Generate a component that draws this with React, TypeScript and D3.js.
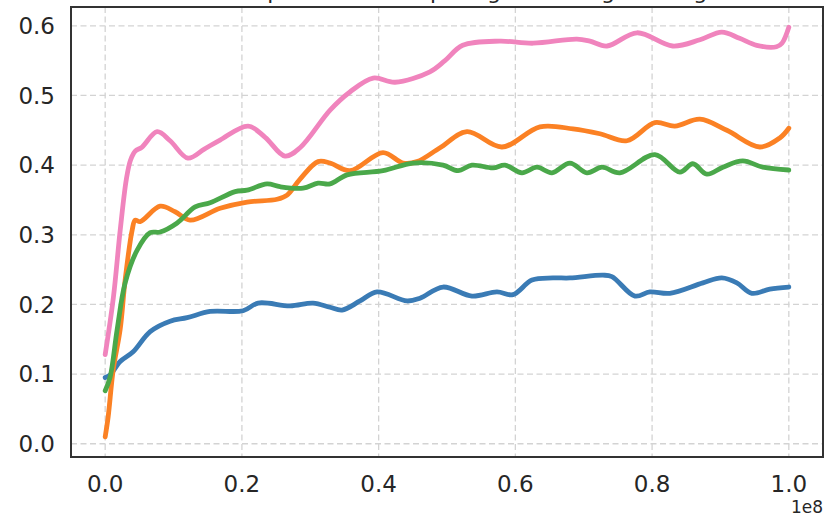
import React from "react";
import * as d3 from "d3";

const xTicks = [0, 0.2, 0.4, 0.6, 0.8, 1.0];
const yTicks = [0, 0.1, 0.2, 0.3, 0.4, 0.5, 0.6];
const titleText = "Mean episode reward per agent during training";
const offsetText = "1e8";

const blueX = [0, 0.0073, 0.0219, 0.0409, 0.0658, 0.095, 0.1199, 0.1535, 0.2018, 0.2237, 0.2705, 0.3041, 0.3289, 0.3465, 0.3728, 0.3977, 0.4415, 0.4605, 0.4942, 0.5365, 0.5731, 0.5965, 0.6243, 0.655, 0.6798, 0.7281, 0.7412, 0.7749, 0.7968, 0.826, 0.8743, 0.902, 0.924, 0.9459, 0.9722, 1.0];
const blueY = [0.095, 0.099, 0.118, 0.132, 0.161, 0.176, 0.181, 0.19, 0.191, 0.202, 0.198, 0.202, 0.196, 0.192, 0.205, 0.218, 0.205, 0.209, 0.225, 0.212, 0.218, 0.214, 0.235, 0.238, 0.238, 0.242, 0.24, 0.212, 0.218, 0.216, 0.231, 0.238, 0.231, 0.216, 0.222, 0.225];

const orangeX = [0, 0.0044, 0.0117, 0.0219, 0.0292, 0.0395, 0.0439, 0.0512, 0.0804, 0.1023, 0.1243, 0.1681, 0.2076, 0.2515, 0.2661, 0.2851, 0.3114, 0.3289, 0.3582, 0.4064, 0.4357, 0.4561, 0.4898, 0.5292, 0.5804, 0.636, 0.6842, 0.7237, 0.7632, 0.8041, 0.8333, 0.8699, 0.9094, 0.9576, 0.9868, 1.0];
const orangeY = [0.01, 0.039, 0.106, 0.164, 0.235, 0.307, 0.321, 0.319, 0.341, 0.333, 0.321, 0.338, 0.347, 0.351, 0.357, 0.38, 0.405, 0.403, 0.392, 0.418, 0.403, 0.405, 0.425, 0.448, 0.426, 0.455, 0.452, 0.445, 0.435, 0.461, 0.456, 0.466, 0.45, 0.426, 0.439, 0.453];

const greenX = [0, 0.0073, 0.0175, 0.0292, 0.0468, 0.0658, 0.0804, 0.1053, 0.1316, 0.1535, 0.1901, 0.2076, 0.2368, 0.2558, 0.2895, 0.3114, 0.3289, 0.3538, 0.4064, 0.4503, 0.4942, 0.5161, 0.5365, 0.5673, 0.5848, 0.6096, 0.6316, 0.6535, 0.6798, 0.7047, 0.7266, 0.7529, 0.8041, 0.8406, 0.8596, 0.8801, 0.9035, 0.9327, 0.962, 1.0];
const greenY = [0.076, 0.096, 0.164, 0.231, 0.278, 0.303, 0.304, 0.317, 0.34, 0.346, 0.362, 0.364, 0.373, 0.369, 0.367, 0.374, 0.373, 0.386, 0.392, 0.403, 0.4, 0.392, 0.4, 0.396, 0.4, 0.389, 0.397, 0.389, 0.403, 0.389, 0.397, 0.389, 0.415, 0.39, 0.402, 0.387, 0.397, 0.406, 0.397, 0.393];

const pinkX = [0, 0.012, 0.022, 0.031, 0.037, 0.044, 0.054, 0.076, 0.095, 0.121, 0.145, 0.168, 0.209, 0.234, 0.263, 0.285, 0.329, 0.358, 0.392, 0.424, 0.475, 0.497, 0.523, 0.577, 0.626, 0.69, 0.709, 0.734, 0.778, 0.83, 0.87, 0.902, 0.928, 0.953, 0.982, 0.99, 1.0];
const pinkY = [0.128, 0.21, 0.307, 0.38, 0.407, 0.42, 0.426, 0.448, 0.435, 0.41, 0.423, 0.436, 0.456, 0.44, 0.413, 0.425, 0.479, 0.505, 0.525, 0.519, 0.534, 0.55, 0.572, 0.578, 0.575, 0.581, 0.578, 0.571, 0.59, 0.571, 0.58, 0.591, 0.582, 0.572, 0.57, 0.575, 0.598];

const seriesColors = ["#3a7bb5", "#fb8124", "#4aa84a", "#f084bd"];

const W = 825;
const H = 519;
const L = 71, R = 823, T = 7, B = 457;

export default function App() {
  const x = d3.scaleLinear().domain([-0.05, 1.05]).range([L, R]);
  const y = d3.scaleLinear().domain([-0.019, 0.627]).range([B, T]);
  const series = [
    { xs: blueX, ys: blueY },
    { xs: orangeX, ys: orangeY },
    { xs: greenX, ys: greenY },
    { xs: pinkX, ys: pinkY },
  ];
  const line = d3
    .line<[number, number]>()
    .x((d) => x(d[0]))
    .y((d) => y(d[1]))
    .curve(d3.curveCatmullRom.alpha(0.5));
  const fmt = d3.format(".1f");
  const font = "'DejaVu Sans', sans-serif";
  return (
    <svg
      width={W}
      height={H}
      style={{ position: "absolute", left: 0, top: 0, background: "#fff" }}
      fontFamily={font}
    >
      <rect x={0} y={0} width={W} height={H} fill="#fff" />
      <text x={447} y={-1} textAnchor="middle" fontSize={22} fill="#262626">
        {titleText}
      </text>
      <g>
        {xTicks.map((t) => (
          <line key={"gx" + t} x1={x(t)} x2={x(t)} y1={T} y2={B} stroke="#d3d3d3" strokeWidth={1.3} strokeDasharray="6,3.5" />
        ))}
        {yTicks.map((t) => (
          <line key={"gy" + t} x1={L} x2={R} y1={y(t)} y2={y(t)} stroke="#d3d3d3" strokeWidth={1.3} strokeDasharray="6,3.5" />
        ))}
      </g>
      <g fill="none" strokeLinecap="round" strokeLinejoin="round">
        {series.map((s, i) => (
          <path
            key={i}
            d={line(s.xs.map((v, j) => [v, s.ys[j]] as [number, number])) || ""}
            stroke={seriesColors[i]}
            strokeWidth={4.8}
          />
        ))}
      </g>
      <rect x={L} y={T} width={R - L} height={B - T} fill="none" stroke="#333" strokeWidth={2} />
      <g fontSize={23} fill="#262626">
        {yTicks.map((t) => (
          <text key={"ly" + t} x={55} y={y(t)} dy="0.36em" textAnchor="end">
            {fmt(t)}
          </text>
        ))}
        {xTicks.map((t) => (
          <text key={"lx" + t} x={x(t)} y={492} textAnchor="middle">
            {fmt(t)}
          </text>
        ))}
      </g>
      <text x={823} y={513} textAnchor="end" fontSize={17} fill="#262626">
        {offsetText}
      </text>
    </svg>
  );
}
